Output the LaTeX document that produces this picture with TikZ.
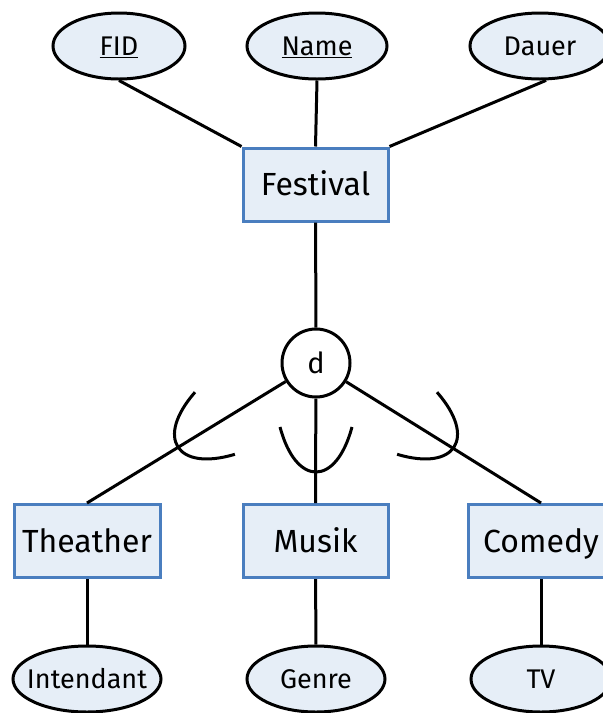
\documentclass[tikz,border=0pt]{standalone}
\usepackage{fontspec}
\setmainfont{Fira Sans}
\usetikzlibrary{shapes.geometric}
\definecolor{fillb}{HTML}{E6EEF7}
\definecolor{bordb}{HTML}{4A7EBF}
\newcommand\zw[1]{\makebox[0pt]{#1}}
\begin{document}
\begin{tikzpicture}[x=1pt,y=-1pt,
 ent/.style={draw=bordb, fill=fillb, line width=3pt, minimum width=145pt, minimum height=73pt, inner sep=0pt, text height=22pt, text depth=0pt, font=\fontsize{32}{38}\selectfont},
 attr/.style={ellipse, draw=black, fill=fillb, line width=3pt, minimum height=66pt, inner sep=0pt, text height=18.6pt, text depth=0pt, font=\fontsize{27}{32}\selectfont},
 spec/.style={circle, draw=black, fill=white, line width=3pt, minimum size=68pt, inner sep=0pt, text height=20pt, text depth=0pt, font=\fontsize{29}{34}\selectfont},
 conn/.style={line width=3pt},
 subset/.style={line width=3pt}]
\useasboundingbox (0,0) rectangle (603,713);
\begin{scope}
\clip (0,0) rectangle (603,713);
% entities
\node[ent] (fest) at (315.5,184.5) {Festival};
\node[ent, minimum width=146pt] (theather) at (87,541) {Theather};
\node[ent] (musik) at (315.5,541) {Musik};
\node[ent] (comedy) at (541,541) {Comedy};
% specialization circle
\node[spec] (d) at (316,363) {d};
\draw[conn] (fest) -- (d);
\draw[conn] (d) -- (theather.north);
\draw[conn] (d) -- (musik.north);
\draw[conn] (d) -- (comedy.north);
% attributes
\node[attr, minimum width=132pt] (fid) at (119,46) {\zw{\underline{FID}}};
\node[attr, minimum width=140pt] (name) at (317,46) {\zw{\underline{Name}}};
\node[attr, minimum width=140pt] (dauer) at (540,46) {\zw{Dauer}};
\node[attr, minimum width=148pt] (intendant) at (87,679) {\zw{Intendant}};
\node[attr, minimum width=138pt] (genre) at (316,679) {\zw{Genre}};
\node[attr, minimum width=140pt] (tv) at (541,679) {\zw{TV}};
\draw[conn] (fid.south) -- (fest.north west);
\draw[conn] (name.south) -- (fest.north);
\draw[conn] (dauer.-80) -- (fest.north east);
\draw[conn] (theather) -- (intendant);
\draw[conn] (musik) -- (genre);
\draw[conn] (comedy) -- (tv);
% subset symbols
\draw[subset] (195.0,392.2) .. controls (154.85,438.1) and (176.45,471.7) .. (234.9,454.3);
\draw[subset] (280,427) .. controls (296,487) and (336,487) .. (352,427);
\draw[subset] (437.0,392.2) .. controls (477.15,438.1) and (455.55,471.7) .. (397.1,454.3);
\end{scope}
\end{tikzpicture}
\end{document}
